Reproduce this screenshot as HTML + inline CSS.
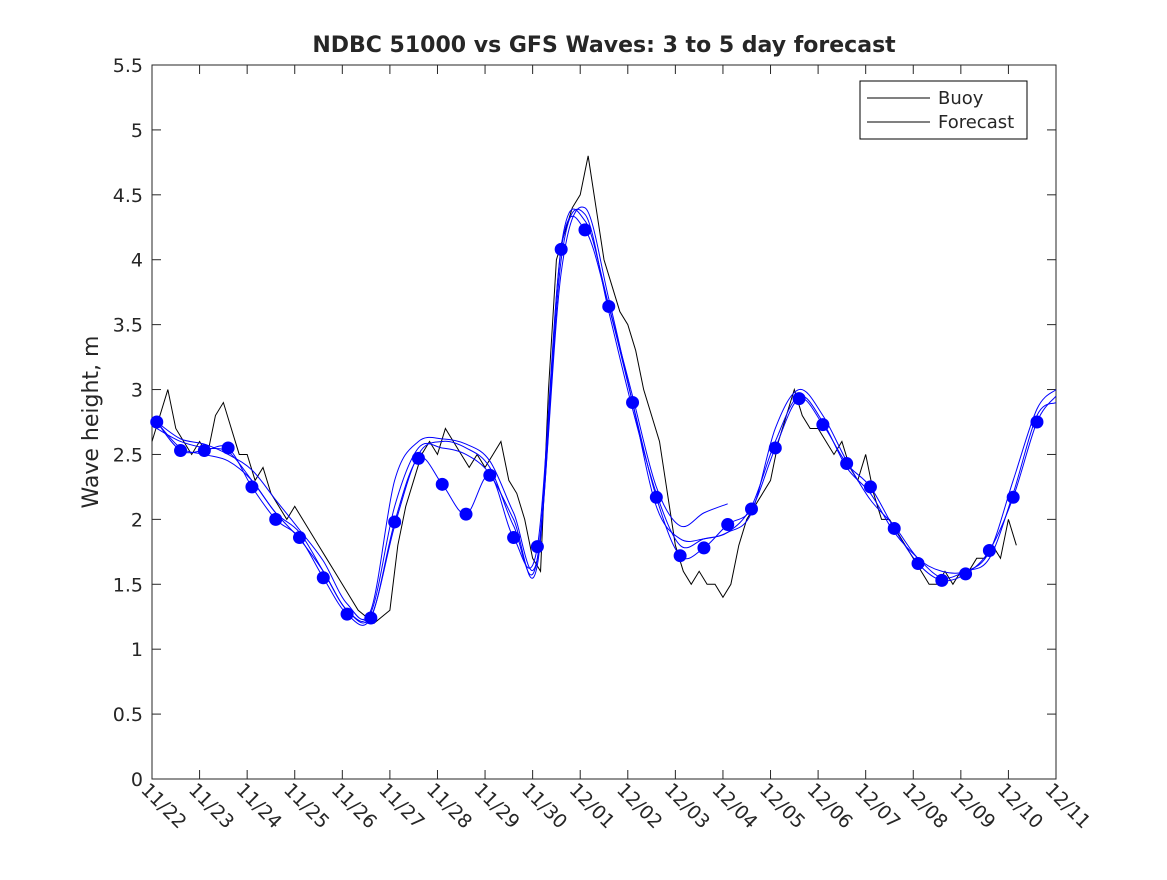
<!DOCTYPE html>
<html><head><meta charset="utf-8"><style>
body{margin:0;background:#fff;}
svg text{font-family:"DejaVu Sans","Liberation Sans",sans-serif;fill:#262626;}
</style></head><body>
<svg id="chart" width="1167" height="875">
<rect width="1167" height="875" fill="#fff"/>
<text x="604" y="52" text-anchor="middle" font-size="22" font-weight="bold" fill="#000">NDBC 51000 vs GFS Waves: 3 to 5 day forecast</text>
<text transform="translate(98,422) rotate(-90)" text-anchor="middle" font-size="22">Wave height, m</text>
<g id="axes"></g>
<g id="plot"></g>
<g>
<rect x="860" y="81" width="167" height="58" fill="#fff" stroke="#000" stroke-width="1"/>
<line x1="867" y1="98" x2="930" y2="98" stroke="#000" stroke-width="1"/>
<text x="938" y="104" font-size="18">Buoy</text>
<line x1="867" y1="122" x2="930" y2="122" stroke="#000" stroke-width="1"/>
<text x="938" y="128" font-size="18">Forecast</text>
</g>
</svg>
<script>
const xTickLabels=["11/22","11/23","11/24","11/25","11/26","11/27","11/28","11/29","11/30","12/01","12/02","12/03","12/04","12/05","12/06","12/07","12/08","12/09","12/10","12/11"];
const yTicks=[0,0.5,1,1.5,2,2.5,3,3.5,4,4.5,5,5.5];
const buoyValues=[2.6,2.8,3.0,2.7,2.6,2.5, 2.6,2.5,2.8,2.9,2.7,2.5, 2.5,2.3,2.4,2.2,2.1,2.0, 2.1,2.0,1.9,1.8,1.7,1.6, 1.5,1.4,1.3,1.25,1.2,1.25, 1.3,1.8,2.1,2.3,2.5,2.6, 2.5,2.7,2.6,2.5,2.4,2.5, 2.4,2.5,2.6,2.3,2.2,2.0, 1.7,1.6,3.0,4.0,4.2,4.4, 4.5,4.8,4.4,4.0,3.8,3.6, 3.5,3.3,3.0,2.8,2.6,2.2, 1.8,1.6,1.5,1.6,1.5,1.5, 1.4,1.5,1.8,2.0,2.1,2.2, 2.3,2.6,2.8,3.0,2.8,2.7, 2.7,2.6,2.5,2.6,2.4,2.3, 2.5,2.2,2.0,2.0,1.9,1.8, 1.7,1.6,1.5,1.5,1.6,1.5, 1.6,1.6,1.7,1.7,1.8,1.7, 2.0,1.8];
const buoyStepDays=1/6;
const fcTimes=[0.1,0.6,1.1,1.6,2.1,2.6,3.1,3.6,4.1,4.6,5.1,5.6,6.1,6.6,7.1,7.6,8.1,8.6,9.1,9.6,10.1,10.6,11.1,11.6,12.1,12.6,13.1,13.6,14.1,14.6,15.1,15.6,16.1,16.6,17.1,17.6,18.1,18.6,19.0];
const fcA=[2.75,2.53,2.53,2.55,2.25,2.0,1.86,1.55,1.27,1.24,1.98,2.47,2.27,2.04,2.34,1.86,1.79,4.08,4.23,3.64,2.9,2.17,1.72,1.78,1.96,2.08,2.55,2.93,2.73,2.43,2.25,1.93,1.66,1.53,1.58,1.76,2.17,2.75,2.95];
const fcB=[2.75,2.62,2.58,2.5,2.38,2.15,1.92,1.68,1.35,1.3,2.3,2.6,2.62,2.58,2.45,2.05,1.7,3.9,4.4,3.7,2.9,2.1,1.85,1.85,1.9,2.05,2.7,3.0,2.8,2.45,2.15,1.95,1.7,1.6,1.6,1.75,2.3,2.85,3.0];
const fcC=[2.7,2.6,2.55,2.52,2.3,2.05,1.85,1.6,1.3,1.28,2.1,2.55,2.55,2.5,2.35,2.0,1.65,4.0,4.35,3.6,2.85,2.2,1.8,1.85,1.9,2.1,2.6,2.95,2.75,2.4,2.2,1.9,1.7,1.55,1.6,1.7,2.2,2.8,2.9];
const fcD=[2.75,2.55,2.5,2.45,2.3,2.05,1.9,1.6,1.3,1.25,1.95,2.5,2.6,2.55,2.4,1.95,1.7,4.1,4.3,3.65,2.95,2.25,1.95,2.05,2.12];
const dotValues=fcA.slice(0,38);

const X0=152,X1=1056,Y0=779,Y1=65;
const xs=d=>X0+d*(X1-X0)/19;
const ys=v=>Y0-v*(Y0-Y1)/5.5;
const NS="http://www.w3.org/2000/svg";
function mk(tag,attrs,parent){const e=document.createElementNS(NS,tag);for(const k in attrs)e.setAttribute(k,attrs[k]);parent.appendChild(e);return e;}
const axes=document.getElementById('axes'),plot=document.getElementById('plot');
const frame=mk('rect',{x:X0,y:Y1,width:X1-X0,height:Y0-Y1,fill:'none',stroke:'#262626','stroke-width':1},axes);


xTickLabels.forEach((lab,i)=>{
 const x=xs(i);
 mk('line',{x1:x,y1:Y0,x2:x,y2:Y0-9,stroke:'#262626'},axes);
 mk('line',{x1:x,y1:Y1,x2:x,y2:Y1+9,stroke:'#262626'},axes);
 const t=mk('text',{transform:`translate(${x-12},${Y0+12}) rotate(45)`,'font-size':19},axes);
 t.textContent=lab;
 
 
});
yTicks.forEach(v=>{
 const y=ys(v);
 mk('line',{x1:X0,y1:y,x2:X0+9,y2:y,stroke:'#262626'},axes);
 mk('line',{x1:X1,y1:y,x2:X1-9,y2:y,stroke:'#262626'},axes);
 const t=mk('text',{x:X0-9,y:y+7,'text-anchor':'end','font-size':19},axes);
 t.textContent=String(v);
 
 
});
function smooth(pts){let d=`M${pts[0][0]},${pts[0][1]}`;for(let i=0;i<pts.length-1;i++){const p0=pts[i-1]||pts[i],p1=pts[i],p2=pts[i+1],p3=pts[i+2]||p2;
 d+=` C${p1[0]+(p2[0]-p0[0])/6},${p1[1]+(p2[1]-p0[1])/6} ${p2[0]-(p3[0]-p1[0])/6},${p2[1]-(p3[1]-p1[1])/6} ${p2[0]},${p2[1]}`;}return d;}
let bd='';
buoyValues.forEach((v,i)=>{const x=xs(i*buoyStepDays),y=ys(v);bd+=(i?' L':'M')+x+','+y;});
const bp=mk('path',{d:bd,fill:'none',stroke:'#000','stroke-width':1},plot);


[fcA,fcB,fcC,fcD].forEach((s,k)=>{
 const pts=s.map((v,i)=>[xs(Math.min(fcTimes[i],19)),ys(v)]);
 const p=mk('path',{d:smooth(pts),fill:'none',stroke:'#0000ff','stroke-width':1},plot);
 
 
});
dotValues.forEach((v,i)=>{
 const c=mk('circle',{cx:xs(fcTimes[i]),cy:ys(v),r:6.5,fill:'#0000ff'},plot);
 
 
});
</script>
</body></html>
